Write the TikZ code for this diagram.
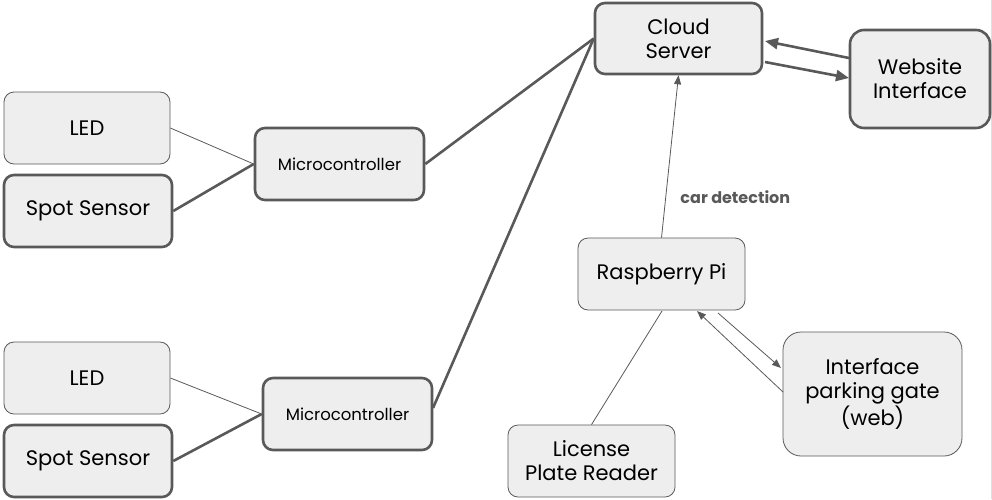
\documentclass[tikz,border=0pt]{standalone}
\usepackage{fontspec}
\setmainfont{Poppins}
\usetikzlibrary{arrows.meta}
\definecolor{edge}{HTML}{595959}
\definecolor{boxfill}{HTML}{EEEEEE}

\begin{document}
\begin{tikzpicture}[x=1pt,y=-1pt,
  box/.style = {draw=edge, fill=boxfill, rounded corners=10pt, line width=0.8pt,
                align=center, font=\fontsize{21}{24}\selectfont, text=black},
  boldbox/.style = {box, line width=2.6pt},
  thinlink/.style = {draw=edge, line width=0.8pt},
  thicklink/.style = {draw=edge, line width=2.6pt},
  smalltip/.style = {-{Triangle[length=9pt,width=7pt]}},
  bigtip/.style = {-{Triangle[length=13pt,width=11pt]}}]

\useasboundingbox (0,0) rectangle (992,499);
\draw[gray!25, line width=1pt] (991,0) -- (991,499); % page edge

% Spot groups
\node[box, minimum width=166pt, minimum height=72pt] (led1) at (87,128) {LED};
\node[boldbox, minimum width=168pt, minimum height=72pt] (spot1) at (88,211) {Spot Sensor};
\node[boldbox, minimum width=169pt, minimum height=72pt, font=\fontsize{16.5}{19}\selectfont] (mc1) at (339.5,164) {Microcontroller};

\node[box, minimum width=166pt, minimum height=72pt] (led2) at (87,378) {LED};
\node[boldbox, minimum width=168pt, minimum height=72pt] (spot2) at (88,461) {Spot Sensor};
\node[boldbox, minimum width=169pt, minimum height=72pt, font=\fontsize{16.5}{19}\selectfont] (mc2) at (347.5,414) {Microcontroller};

% Server side
\node[boldbox, minimum width=167pt, minimum height=71pt] (cloud) at (678.5,38.5) {Cloud\\Server};
\node[boldbox, minimum width=140pt, minimum height=98pt, rounded corners=14pt] (web) at (920,79) {Website\\Interface};

% Gate side
\node[box, minimum width=167pt, minimum height=72pt] (pi) at (661.5,274) {Raspberry Pi};
\node[box, minimum width=167pt, minimum height=72pt] (lpr) at (591.5,461) {License\\Plate Reader};
\node[box, minimum width=179pt, minimum height=124pt, rounded corners=18pt] (gate) at (872.5,394) {Interface\\parking gate\\(web)};

\coordinate (cloudin1) at (765,41);
\coordinate (cloudout1) at (765,62);
\coordinate (webin1) at (849,58);
\coordinate (webout1) at (849,78);
\coordinate (piin) at (697,311);
\coordinate (piout) at (718,313);
\coordinate (pibase) at (662,311);
\coordinate (gatein) at (781,368);
\coordinate (gateout) at (783,392);
\coordinate (mc2out) at (433,408);

% links
\draw[thinlink] (led1.east) -- (mc1.west);
\draw[thicklink] (spot1.east) -- (mc1.west);
\draw[thinlink] (led2.east) -- (mc2.west);
\draw[thicklink] (spot2.east) -- (mc2.west);
\draw[thicklink] (mc1.east) -- (cloud.west);
\draw[thicklink] (mc2out) -- (cloud.west);

\draw[thicklink, bigtip] (webin1) -- (cloudin1);
\draw[thicklink, bigtip] (cloudout1) -- (webout1);

\draw[thinlink, smalltip] (pi.north) -- (cloud.south) node[pos=0.25, right=11pt, font=\bfseries\fontsize{16}{19}\selectfont, text=edge] {car detection};
\draw[thinlink] (lpr.north) -- (pibase);
\draw[thinlink, smalltip] (gateout) -- (piin);
\draw[thinlink, smalltip] (piout) -- (gatein);
\end{tikzpicture}
\end{document}
